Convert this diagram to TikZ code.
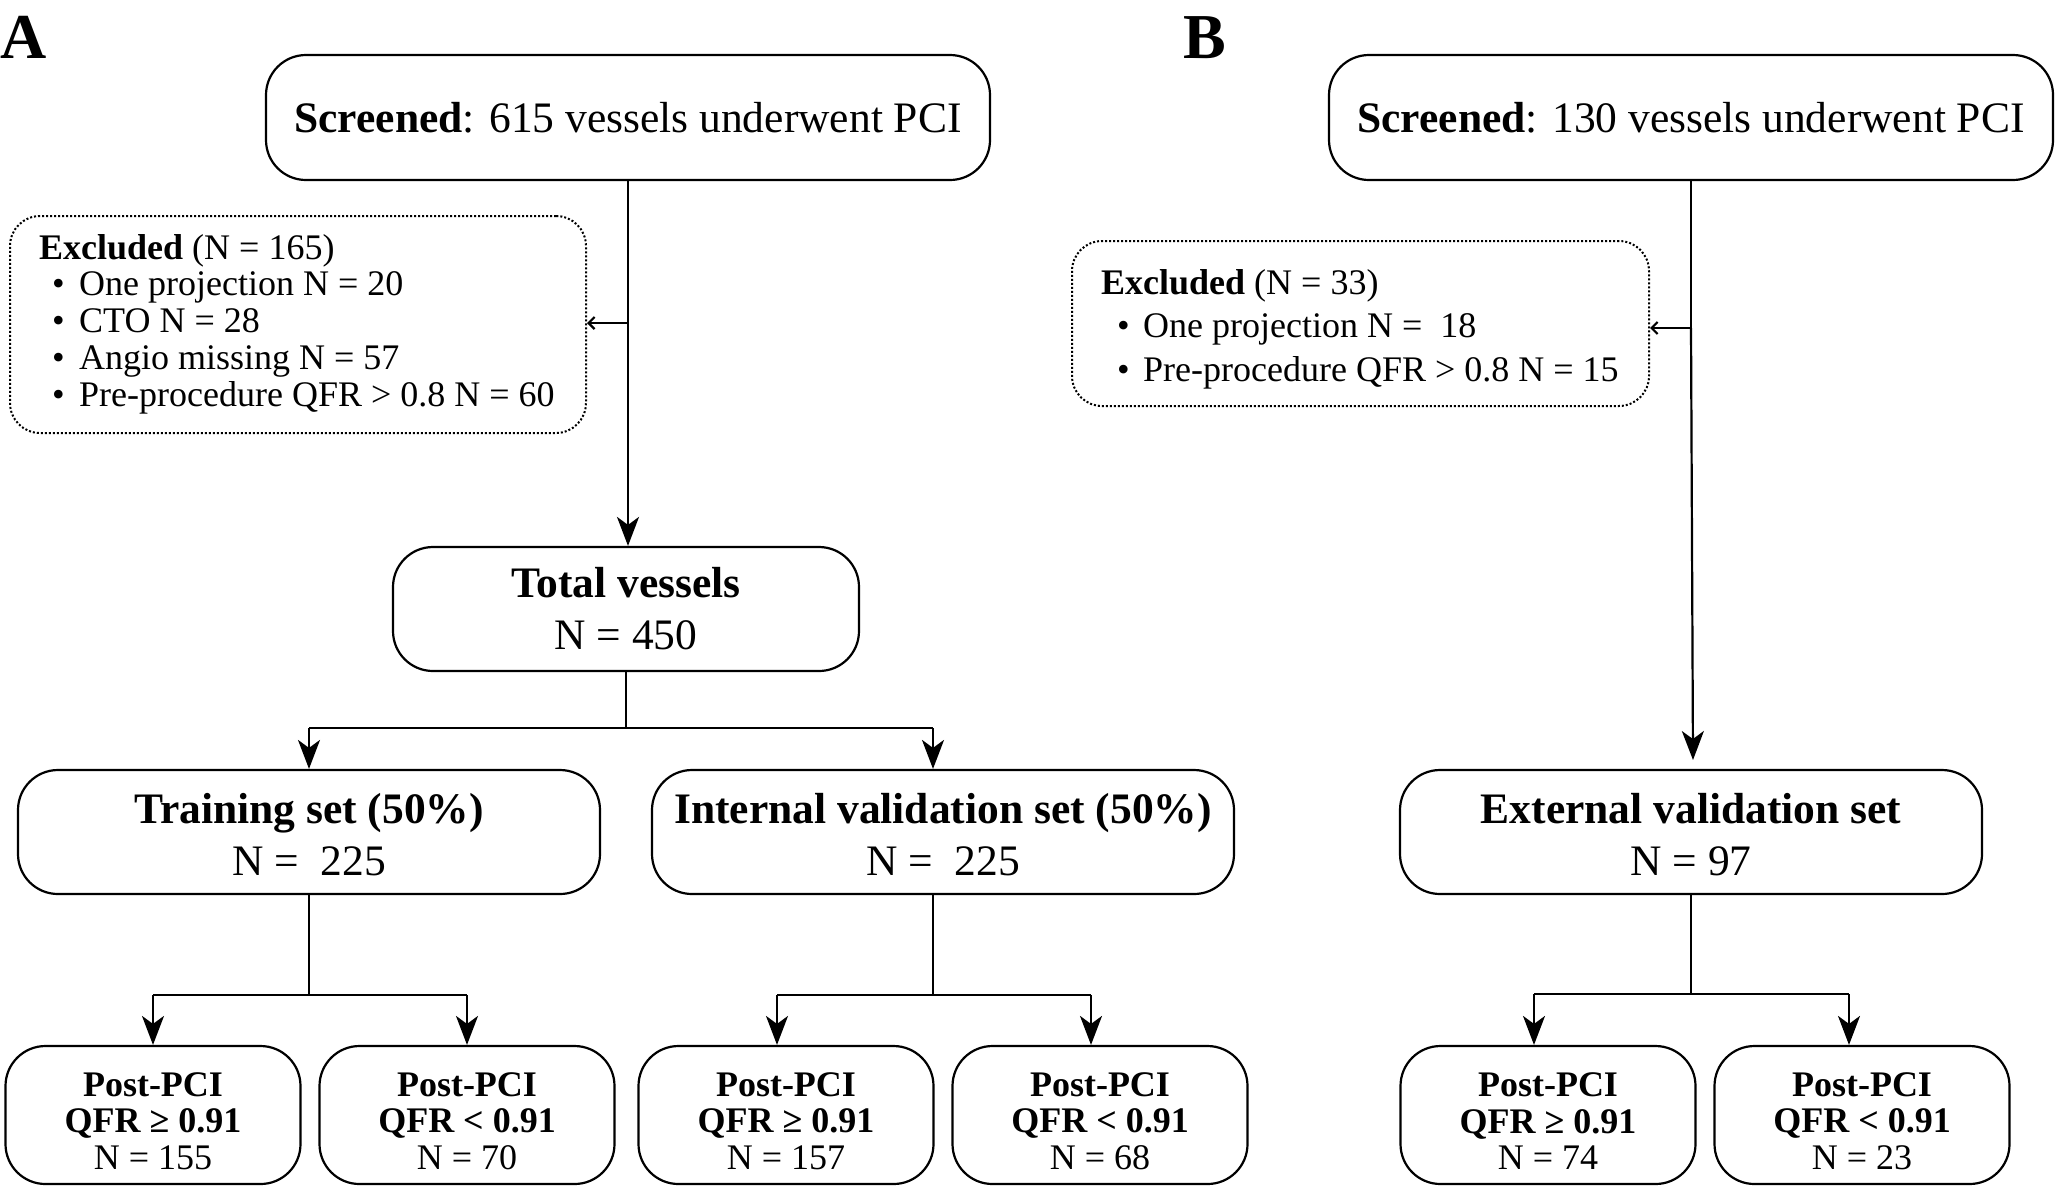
\documentclass[tikz,border=0pt]{standalone}
\usepackage{fontspec}
\setmainfont{Liberation Serif}
\usetikzlibrary{arrows.meta,calc}
\begin{document}
\begin{tikzpicture}[x=1pt,y=-1pt,
  box/.style={draw, line width=2.2pt, rounded corners=40pt, inner sep=0pt, align=center},
  big/.style={font=\fontsize{43.5}{52}\selectfont},
  small/.style={font=\fontsize{36}{36.7}\selectfont},
  exbox/.style={draw, line width=2pt, dash pattern=on 2pt off 2pt, rounded corners=30pt, inner sep=0pt},
  line/.style={line width=2.2pt},
  arr/.style={line width=2.2pt, -{Stealth[length=29pt,width=22pt,inset=8pt]}},
  sarr/.style={line width=2.2pt, -{Straight Barb[length=6pt,width=12pt]}},
  lbl/.style={font=\fontsize{64}{64}\selectfont\bfseries, inner sep=0pt, anchor=base west},
]
\useasboundingbox (0,0) rectangle (2056,1187);

% panel labels
\node[lbl] (labA) at (0,58) {A};
\node[lbl] (labB) at (1183,58) {B};

% ---------- panel A ----------
\node[box, big, minimum width=724pt, minimum height=125pt] (scrA) at (628,117.5) {\textbf{Screened}: 615 vessels underwent PCI};
\node[exbox, minimum width=576pt, minimum height=217pt] (exA) at (298,324.5) {};
\node[small, anchor=west, align=left, inner sep=0pt] (exAt) at (39,324) {%
\textbf{Excluded} (N = 165)\\
\hspace*{13pt}\makebox[27pt][l]{•}One projection N = 20\\
\hspace*{13pt}\makebox[27pt][l]{•}CTO N = 28\\
\hspace*{13pt}\makebox[27pt][l]{•}Angio missing N = 57\\
\hspace*{13pt}\makebox[27pt][l]{•}Pre-procedure QFR > 0.8 N = 60};
\node[box, big, minimum width=466pt, minimum height=124pt] (tot) at (626,609) {\textbf{Total vessels}\\N = 450};
\node[box, big, minimum width=582pt, minimum height=124pt] (train) at (309,832) {\rule{0pt}{36pt}\textbf{Training set (50\%)}\\N = \ 225};
\node[box, big, minimum width=582pt, minimum height=124pt] (intern) at (943,832) {\rule{0pt}{36pt}\textbf{Internal validation set (50\%)}\\N = \ 225};

\node[box, small, minimum width=295pt, minimum height=138pt] (a1) at (153,1115) {\rule{0pt}{36pt}\textbf{Post-PCI}\\\textbf{QFR ≥ 0.91}\\N = 155};
\node[box, small, minimum width=295pt, minimum height=138pt] (a2) at (467,1115) {\rule{0pt}{36pt}\textbf{Post-PCI}\\\textbf{QFR < 0.91}\\N = 70};
\node[box, small, minimum width=295pt, minimum height=138pt] (a3) at (786,1115) {\rule{0pt}{36pt}\textbf{Post-PCI}\\\textbf{QFR ≥ 0.91}\\N = 157};
\node[box, small, minimum width=295pt, minimum height=138pt] (a4) at (1100,1115) {\rule{0pt}{36pt}\textbf{Post-PCI}\\\textbf{QFR < 0.91}\\N = 68};

% connectors A
\coordinate (tapA) at (628,323);
\draw[arr] (scrA.south -| tapA) -- (tot.north -| tapA);
\draw[sarr] (tapA) -- (exA.east |- tapA);

\coordinate (jA) at (626,728);
\coordinate (jAl) at (309,728);
\coordinate (jAr) at (933,728);
\draw[line] (tot.south) -- (jA);
\draw[line] (jAl) -- (jAr);
\draw[arr] (jAl) -- (jAl |- train.north);
\draw[arr] (jAr) -- (jAr |- intern.north);

\coordinate (jT) at (309,995);
\coordinate (jTl) at (153,995);
\coordinate (jTr) at (467,995);
\draw[line] (train.south) -- (jT);
\draw[line] (jTl) -- (jTr);
\draw[arr] (jTl) -- (jTl |- a1.north);
\draw[arr] (jTr) -- (jTr |- a2.north);

\coordinate (jI) at (933,995);
\coordinate (jIl) at (777,995);
\coordinate (jIr) at (1091,995);
\draw[line] (jI |- intern.south) -- (jI);
\draw[line] (jIl) -- (jIr);
\draw[arr] (jIl) -- (jIl |- a3.north);
\draw[arr] (jIr) -- (jIr |- a4.north);

% ---------- panel B ----------
\node[box, big, minimum width=724pt, minimum height=125pt] (scrB) at (1691,117.5) {\textbf{Screened}: 130 vessels underwent PCI};
\node[exbox, minimum width=577pt, minimum height=165pt] (exB) at (1360.5,323.5) {};
\node[small, anchor=west, align=left, inner sep=0pt, font=\fontsize{36}{43.5}\selectfont] (exBt) at (1101,329) {%
\textbf{Excluded} (N = 33)\\
\hspace*{16pt}\makebox[26pt][l]{•}One projection N = \ 18\\
\hspace*{16pt}\makebox[26pt][l]{•}Pre-procedure QFR > 0.8 N = 15};
\node[box, big, minimum width=582pt, minimum height=124pt] (ext) at (1691,832) {\rule{0pt}{36pt}\textbf{External validation set}\\N = 97};
\node[box, small, minimum width=295pt, minimum height=138pt] (b1) at (1548,1115) {\rule{0pt}{36pt}\textbf{Post-PCI}\\\textbf{QFR ≥ 0.91}\\N = 74};
\node[box, small, minimum width=295pt, minimum height=138pt] (b2) at (1862,1115) {\rule{0pt}{36pt}\textbf{Post-PCI}\\\textbf{QFR < 0.91}\\N = 23};

\coordinate (tapB) at (1691,328);
\draw[line] (scrB.south -| tapB) -- (tapB);
\coordinate (endB) at (1693,760);
\draw[arr] (tapB) -- (endB);
\draw[sarr] (tapB) -- (exB.east |- tapB);

\coordinate (jE) at (1691,994);
\coordinate (jEl) at (1534,994);
\coordinate (jEr) at (1849,994);
\draw[line] (ext.south) -- (jE);
\draw[line] (jEl) -- (jEr);
\draw[arr] (jEl) -- (jEl |- b1.north);
\draw[arr] (jEr) -- (jEr |- b2.north);
\end{tikzpicture}
\end{document}
